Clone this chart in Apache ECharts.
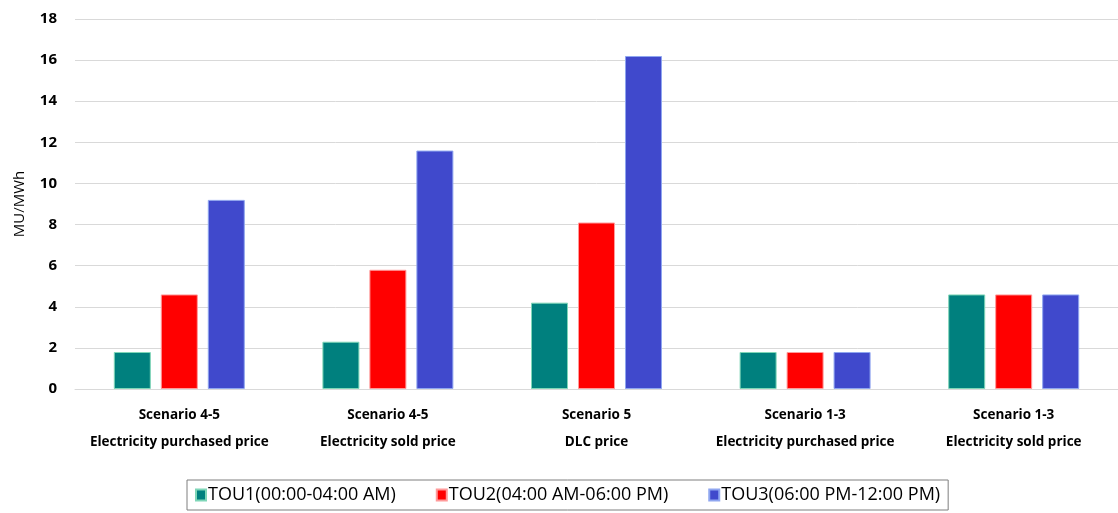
<!DOCTYPE html>
<html>
<head>
<meta charset="utf-8">
<script src="https://cdn.jsdelivr.net/npm/echarts@6/dist/echarts.min.js"></script>
<style>html,body{margin:0;padding:0;background:#fff;}#c{width:1118px;height:513px;}</style>
</head>
<body>
<div id="c"></div>
<script>
const categories = [
  "Scenario 4-5\nElectricity purchased price",
  "Scenario 4-5\nElectricity sold price",
  "Scenario 5\nDLC price",
  "Scenario 1-3\nElectricity purchased price",
  "Scenario 1-3\nElectricity sold price"
];
const seriesNames = ["TOU1(00:00-04:00 AM)", "TOU2(04:00 AM-06:00 PM)", "TOU3(06:00 PM-12:00 PM)"];
const tou1 = [1.8, 2.3, 4.2, 1.8, 4.6];
const tou2 = [4.6, 5.8, 8.1, 1.8, 4.6];
const tou3 = [9.2, 11.6, 16.2, 1.8, 4.6];
const yTicks = [0, 2, 4, 6, 8, 10, 12, 14, 16, 18];

const colors = ["#00807E", "#FF0000", "#4049CC"];
const borders = ["#7fd6b8", "#ff9a9a", "#8fa6f0"];
const font = "'Open Sans', sans-serif";

const chart = echarts.init(document.getElementById('c'));
const data = [tou1, tou2, tou3];
chart.setOption({
  animation: false,
  grid: { left: 75, right: 0, top: 19, bottom: 124 },
  legend: {
    bottom: 3,
    left: 187,
    itemWidth: 10,
    itemHeight: 11,
    itemGap: 40,
    icon: 'rect',
    borderColor: '#7f7f7f',
    borderWidth: 1,
    padding: [6, 8, 6, 8],
    textStyle: { fontFamily: font, fontSize: 18, color: '#000', padding: [0, 0, 0, -3] },
    data: seriesNames
  },
  xAxis: {
    type: 'category',
    data: categories,
    axisTick: { show: false },
    axisLine: { lineStyle: { color: '#d9d9d9' } },
    axisLabel: {
      fontFamily: font, fontSize: 13.5, fontWeight: 'bold', color: '#000',
      lineHeight: 27, margin: 13, interval: 0
    }
  },
  yAxis: {
    type: 'value',
    min: 0, max: 18, interval: 2,
    name: 'MU/MWh',
    nameLocation: 'middle',
    nameGap: 48,
    nameTextStyle: { fontFamily: font, fontSize: 15, color: '#000' },
    axisLabel: {
      fontFamily: font, fontSize: 15, fontWeight: 'bold', color: '#000', margin: 18,
      formatter: v => yTicks.includes(v) ? String(v) : ''
    },
    splitLine: { lineStyle: { color: '#d9d9d9' } }
  },
  series: seriesNames.map((n, i) => ({
    name: n,
    type: 'bar',
    data: data[i],
    barWidth: 37,
    barGap: '27%',
    itemStyle: { color: colors[i], borderColor: borders[i], borderWidth: 1 }
  }))
});
</script>
</body>
</html>
